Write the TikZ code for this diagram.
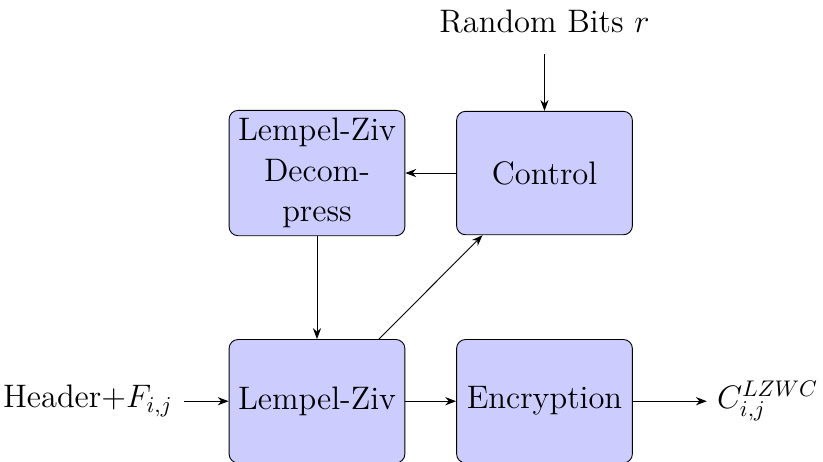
\documentclass[tikz,border=0pt]{standalone}
\usepackage{amsmath}
\usepackage{tikz}
\usetikzlibrary{arrows.meta,positioning}

\begin{document}
\begin{tikzpicture}[
  >=Stealth,
  % processing blocks
  blockbox/.style={rectangle, rounded corners=4pt, draw=black, fill=blue!20,
    text width=2.5cm, align=center, minimum height=1.92cm, font=\Large},
  iolabel/.style={font=\Large},
  flow/.style={->, line width=0.4pt},
]
\useasboundingbox (-4.93,-0.933) rectangle (7.87,6.24);

\node[blockbox] (lz) at (0,0) {Lempel-Ziv};
\node[blockbox, above=1.6cm of lz] (decomp) {Lempel-Ziv Decompress};
\node[blockbox, right=0.79cm of decomp] (ctrl) {Control};
\node[blockbox, right=0.79cm of lz] (enc) {Encryption};

\node[iolabel, left=0.69cm of lz, inner sep=5pt] (hdr) {Header+$F_{i,j}$};
\node[iolabel, right=1.15cm of enc, inner sep=4.4pt] (out) {$C_{i,j}^{LZWC}$};
\node[iolabel, above=1.08cm of ctrl] (rand) {Random Bits $r$};

% data flow
\draw[flow] (hdr) -- (lz);
\draw[flow] (lz) -- (enc);
\draw[flow] (enc) -- (out);
\draw[flow] (lz) -- (ctrl);
\draw[flow] (ctrl) -- (decomp);
\draw[flow] (decomp) -- (lz);
\draw[flow, shorten <=5.5pt] (rand) -- (ctrl);
\end{tikzpicture}
\end{document}
